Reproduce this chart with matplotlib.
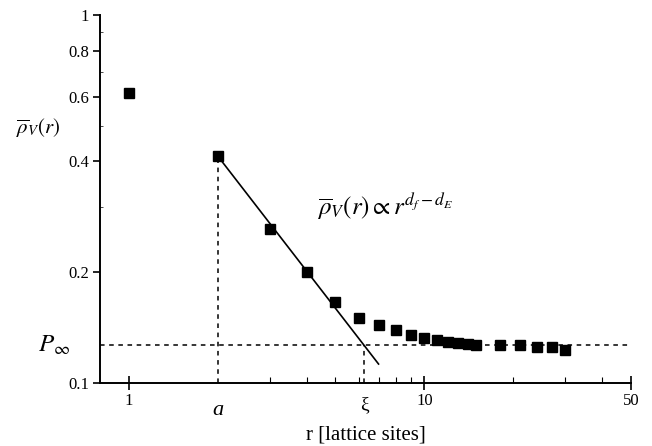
import matplotlib
matplotlib.use("Agg")
import matplotlib.pyplot as plt
import matplotlib.transforms as mtransforms
from matplotlib.ticker import FixedLocator, NullFormatter

plt.rcParams['font.family'] = ['Liberation Serif', 'DejaVu Serif']
plt.rcParams['mathtext.fontset'] = 'stix'

# data
r_vals = [1, 2, 3, 4, 5, 6, 7, 8, 9, 10, 11, 12, 13, 14, 15, 18, 21, 24, 27, 30]
rho_vals = [0.613, 0.414, 0.2615, 0.200, 0.166, 0.1502, 0.1438, 0.139, 0.1353,
            0.1328, 0.1309, 0.1295, 0.1284, 0.1276, 0.1271, 0.1269, 0.1266,
            0.1255, 0.125, 0.1229]
fit_x = [2, 7]
fit_y = [0.414, 0.1126]
p_inf = 0.1272
a_val = 2.0
xi_val = 6.27
x_ticks = [1, 10, 50]
x_tick_labels = ['1', '10', '50']
y_ticks = [0.1, 0.2, 0.4, 0.6, 0.8, 1.0]
y_tick_labels = ['0.1', '0.2', '0.4', '0.6', '0.8', '1']

fig = plt.figure(figsize=(6.52, 4.46), dpi=100)
ax = fig.add_axes([0.1534, 0.1413, 0.8144, 0.8251])
ax.set_xscale('log')
ax.set_yscale('log')
ax.set_xlim(0.8, 50)
ax.set_ylim(0.1, 1.0)

dash = (0, (3, 3))
ax.plot([0.8, 50], [p_inf, p_inf], color='black', lw=1.1, linestyle=dash, zorder=1)
ax.plot([a_val, a_val], [0.1, rho_vals[1]], color='black', lw=1.1, linestyle=dash, zorder=1)
ax.plot([xi_val, xi_val], [0.1, p_inf], color='black', lw=1.1, linestyle=dash, zorder=1)
ax.plot(fit_x, fit_y, color='black', lw=1.2, zorder=2)
ax.plot(r_vals, rho_vals, linestyle='none', marker='s', ms=6.5, color='black', zorder=3)

for s in ['top', 'right']:
    ax.spines[s].set_visible(False)
for s in ['left', 'bottom']:
    ax.spines[s].set_linewidth(1.4)

ax.xaxis.set_major_locator(FixedLocator(x_ticks))
ax.set_xticklabels(x_tick_labels)
ax.xaxis.set_minor_locator(FixedLocator([3, 4, 5, 6, 7, 8, 9, 20, 30, 40]))
ax.xaxis.set_minor_formatter(NullFormatter())
ax.tick_params(axis='x', which='major', direction='inout', length=10, width=1.2,
               labelsize=12, pad=2)
ax.tick_params(axis='x', which='minor', direction='in', length=4, width=0.8)

ax.yaxis.set_major_locator(FixedLocator(y_ticks))
ax.set_yticklabels(y_tick_labels)
ax.yaxis.set_minor_locator(FixedLocator([0.3, 0.5, 0.7, 0.9]))
ax.yaxis.set_minor_formatter(NullFormatter())
ax.tick_params(axis='y', which='major', direction='out', length=5, width=1.2,
               labelsize=12, pad=3)
ax.tick_params(axis='y', which='minor', direction='in', length=2, width=0.5)

trans = mtransforms.blended_transform_factory(ax.transData, ax.transAxes)
ax.text(a_val, -0.075, 'a', transform=trans, ha='center', va='center',
        fontsize=16, fontstyle='italic')
ax.text(xi_val, -0.058, 'ξ', transform=trans, ha='center', va='center', fontsize=14)

ax.set_xlabel('r [lattice sites]', fontsize=15, labelpad=12)

fig.text(38 / 652, 1 - 128 / 446, r'$\overline{\rho}_V(r)$', ha='center', va='center',
         fontsize=15)
fig.text(54 / 652, 1 - 345 / 446, r'$P_\infty$', ha='center', va='center', fontsize=18)
ax.text(4.35, 0.30, r'$\overline{\rho}_V(r) \propto r^{d_f - d_E}$', ha='left',
        va='center', fontsize=18)

fig.savefig('out.png', dpi=100)
